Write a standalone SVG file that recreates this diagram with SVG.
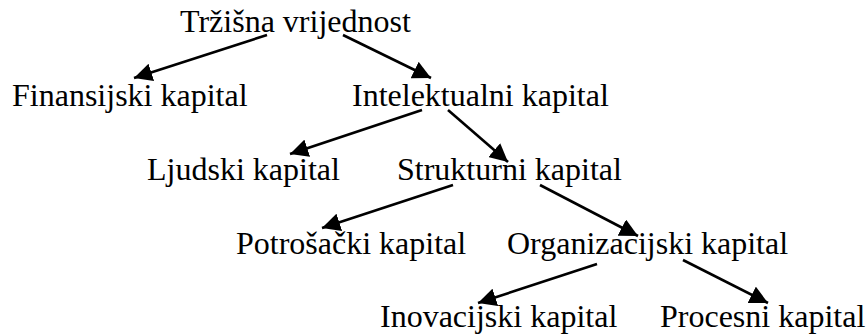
<svg xmlns="http://www.w3.org/2000/svg" width="867" height="336" viewBox="0 0 867 336">
<style>
text{font-family:"Liberation Serif","Times New Roman",serif;font-size:32px;fill:#000}
.c line{stroke:#000;stroke-width:2.6;fill:none}
</style>
<defs>
<marker id="ah" viewBox="0 0 10 10" refX="10" refY="5" markerWidth="7" markerHeight="7" markerUnits="strokeWidth" orient="auto">
<path d="M0,0 L10,5 L0,10 z" fill="#000"/>
</marker>
</defs>
<rect width="867" height="336" fill="#fff"/>
<g id="n1"><text x="180" y="32">Tržišna vrijednost</text></g>
<g id="n2"><text x="12" y="106">Finansijski kapital</text></g>
<g id="n3"><text x="352" y="106">Intelektualni kapital</text></g>
<g id="n4"><text x="147" y="180">Ljudski kapital</text></g>
<g id="n5"><text x="397" y="180">Strukturni kapital</text></g>
<g id="n6"><text x="236" y="254">Potrošački kapital</text></g>
<g id="n7"><text x="507" y="254">Organizacijski kapital</text></g>
<g id="n8"><text x="380" y="327">Inovacijski kapital</text></g>
<g id="n9"><text x="660" y="327">Procesni kapital</text></g>
<g class="c" id="connectors">
<line x1="267" y1="35" x2="134" y2="78" marker-end="url(#ah)"/>
<line x1="343" y1="35" x2="431" y2="78" marker-end="url(#ah)"/>
<line x1="422" y1="110" x2="290" y2="154" marker-end="url(#ah)"/>
<line x1="448" y1="110" x2="508" y2="162" marker-end="url(#ah)"/>
<line x1="453" y1="185" x2="322" y2="228" marker-end="url(#ah)"/>
<line x1="540" y1="185" x2="638" y2="236" marker-end="url(#ah)"/>
<line x1="597" y1="264" x2="478" y2="303" marker-end="url(#ah)"/>
<line x1="683" y1="260" x2="768" y2="303" marker-end="url(#ah)"/>
</g>
</svg>
